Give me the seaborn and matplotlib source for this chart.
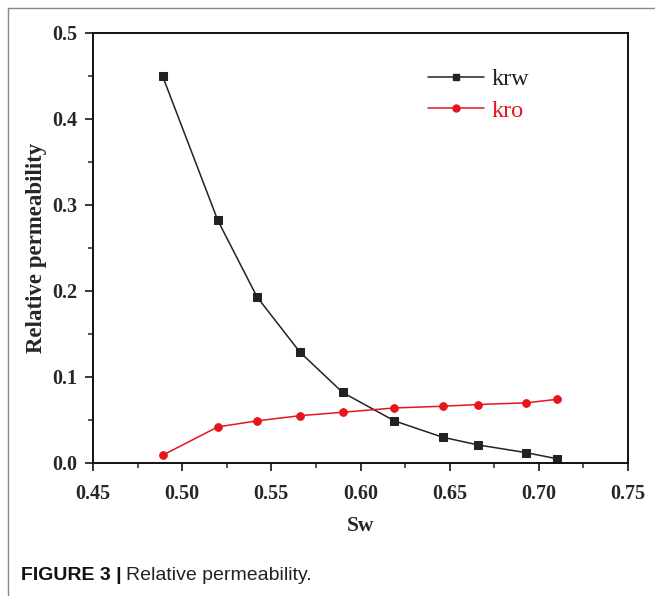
import matplotlib
matplotlib.use("Agg")
import matplotlib.pyplot as plt
import seaborn as sns
import pandas as pd
from matplotlib.lines import Line2D
from matplotlib.ticker import MultipleLocator, FormatStrFormatter

sw = [0.489, 0.520, 0.542, 0.566, 0.590, 0.619, 0.646, 0.666, 0.693, 0.710]
krw = [0.450, 0.282, 0.193, 0.129, 0.082, 0.049, 0.030, 0.021, 0.012, 0.005]
kro = [0.009, 0.042, 0.049, 0.055, 0.059, 0.064, 0.066, 0.068, 0.070, 0.074]
series_names = ["krw", "kro"]
series_colors = ["#222222", "#e8141c"]

df = pd.DataFrame({
    "Sw": sw + sw,
    "k": krw + kro,
    "series": [series_names[0]] * len(sw) + [series_names[1]] * len(sw),
})

sns.set_theme(style="ticks")
plt.rcParams["font.family"] = ["Liberation Serif", "DejaVu Serif"]

fig = plt.figure(figsize=(6.55, 5.96), dpi=100)
ax = fig.add_axes([93 / 655, 1 - 463 / 596, (628 - 93) / 655, (463 - 33) / 596])

sns.lineplot(data=df, x="Sw", y="k", hue="series", style="series",
             palette=dict(zip(series_names, series_colors)),
             markers={"krw": "s", "kro": "o"}, dashes=False,
             markersize=5.5, linewidth=1.1, ax=ax, legend=False)
for line, c in zip(ax.get_lines(), series_colors):
    line.set_markeredgecolor(c)

ax.set_xlim(0.45, 0.75)
ax.set_ylim(0.0, 0.5)
ax.xaxis.set_major_locator(MultipleLocator(0.05))
ax.xaxis.set_minor_locator(MultipleLocator(0.025))
ax.yaxis.set_major_locator(MultipleLocator(0.1))
ax.yaxis.set_minor_locator(MultipleLocator(0.05))
ax.xaxis.set_major_formatter(FormatStrFormatter("%.2f"))
ax.yaxis.set_major_formatter(FormatStrFormatter("%.1f"))

for s in ax.spines.values():
    s.set_linewidth(1.4)
    s.set_color("#111111")
ax.tick_params(which="major", direction="out", length=6, width=1.3,
               labelsize=14.5, top=False, right=False)
ax.tick_params(axis="x", which="major", pad=9)
ax.tick_params(axis="y", which="major", pad=5)
ax.tick_params(which="minor", direction="out", length=3.5, width=1.1,
               top=False, right=False)
for lbl in ax.get_xticklabels() + ax.get_yticklabels():
    lbl.set_fontweight("bold")

ax.set_xlabel("Sw", fontsize=15.5, fontweight="bold", labelpad=9)
ax.set_ylabel("Relative permeability", fontsize=16.5, fontweight="bold", labelpad=4)

handles = [Line2D([], [], color=series_colors[0], marker="s", markersize=5, lw=1.1),
           Line2D([], [], color=series_colors[1], marker="o", markersize=5, lw=1.1)]
leg = ax.legend(handles, series_names, loc="upper left",
                bbox_to_anchor=((428 - 93) / 535, 1 - (68 - 33) / 430),
                frameon=False, fontsize=17.5, handlelength=2.3,
                handletextpad=0.3, labelspacing=0.4, borderaxespad=0,
                borderpad=0)
for t, c in zip(leg.get_texts(), series_colors):
    t.set_color(c)

fig.add_artist(Line2D([8 / 655, 8 / 655], [0, 1 - 8 / 596], transform=fig.transFigure,
                      color="#888888", lw=1))
fig.add_artist(Line2D([8 / 655, 1], [1 - 8 / 596, 1 - 8 / 596], transform=fig.transFigure,
                      color="#888888", lw=1))

t1 = fig.text(21 / 655, 1 - 575 / 596, "FIGURE 3 |", family="Liberation Sans",
              fontweight="bold", fontsize=14, va="center", ha="left", color="#111111")
fig.canvas.draw()
bb = t1.get_window_extent()
fig.text((bb.x1 + 4) / 655, 1 - 575 / 596, "Relative permeability.",
         family="Liberation Sans", fontsize=14, va="center", ha="left", color="#222222")

fig.savefig("out.png", dpi=100)
